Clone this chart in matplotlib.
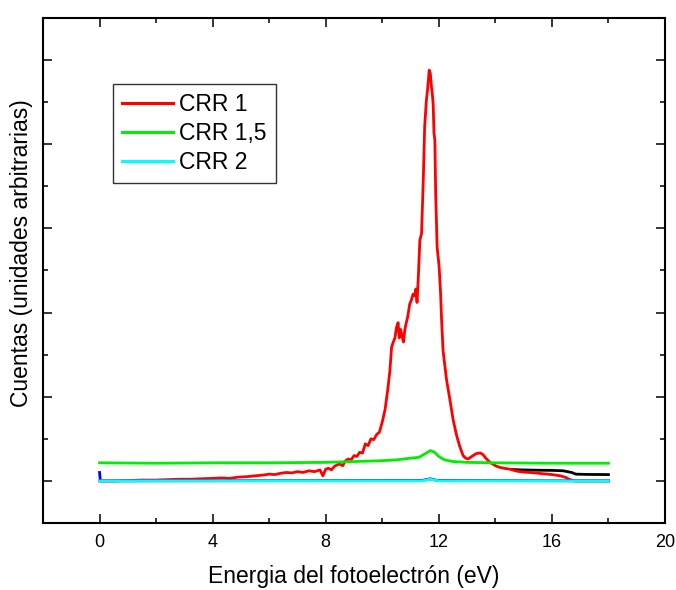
import matplotlib
matplotlib.use("Agg")
import matplotlib.pyplot as plt
from matplotlib.ticker import MultipleLocator

plt.rcParams['font.family'] = ['Liberation Sans', 'DejaVu Sans']

# Photoelectron spectra (arbitrary units) vs energy (eV)
crr1_e = [0.0, 0.5, 1.0, 1.5, 2.0, 2.4, 2.8, 3.2, 3.6, 4.0, 4.3, 4.6, 4.9, 5.2, 5.5,
          5.8, 6.0, 6.2, 6.4, 6.6, 6.8, 7.0, 7.2, 7.4, 7.6, 7.8, 7.9, 8.0, 8.1, 8.2,
          8.3, 8.4, 8.5, 8.6, 8.7, 8.8, 8.9, 9.0, 9.1, 9.2, 9.3, 9.4, 9.5, 9.6, 9.7,
          9.8, 9.9, 10.0, 10.1, 10.2, 10.27, 10.33, 10.4, 10.45, 10.5, 10.56, 10.6,
          10.65, 10.7, 10.75, 10.8, 10.85, 10.9, 10.97, 11.03, 11.09, 11.15, 11.19,
          11.23, 11.27, 11.33, 11.39, 11.45, 11.5, 11.56, 11.6, 11.66, 11.7, 11.74,
          11.77, 11.8, 11.83, 11.86, 11.89, 11.94, 12.01, 12.06, 12.1, 12.15, 12.27,
          12.39, 12.51, 12.63, 12.74, 12.86, 12.95, 13.04, 13.12, 13.21, 13.3, 13.39,
          13.48, 13.57, 13.66, 13.75, 13.85, 13.92, 14.0, 14.16, 14.3, 14.51, 14.7,
          14.87, 15.0, 15.22, 15.4, 15.69, 16.0, 16.3, 16.5, 16.6, 16.8, 17.0, 18.0]
crr1_v = [0.0, 0.0, 0.005, 0.01, 0.01, 0.015, 0.02, 0.02, 0.025, 0.03, 0.035, 0.03,
          0.045, 0.05, 0.06, 0.07, 0.08, 0.075, 0.09, 0.1, 0.095, 0.11, 0.1, 0.12,
          0.11, 0.13, 0.06, 0.14, 0.15, 0.13, 0.17, 0.19, 0.2, 0.18, 0.24, 0.26, 0.25,
          0.3, 0.29, 0.34, 0.33, 0.44, 0.42, 0.5, 0.49, 0.55, 0.58, 0.7, 0.85, 1.1,
          1.31, 1.59, 1.66, 1.7, 1.82, 1.88, 1.7, 1.8, 1.72, 1.65, 1.8, 1.88, 1.95,
          2.1, 2.15, 2.22, 2.2, 2.28, 2.12, 2.38, 2.86, 2.94, 3.57, 4.21, 4.52, 4.64,
          4.88, 4.84, 4.68, 4.6, 4.48, 4.13, 4.05, 3.41, 2.78, 2.55, 2.25, 1.9, 1.55,
          1.21, 0.97, 0.72, 0.54, 0.41, 0.3, 0.27, 0.26, 0.28, 0.3, 0.32, 0.33, 0.33,
          0.31, 0.27, 0.24, 0.21, 0.2, 0.18, 0.16, 0.15, 0.14, 0.12, 0.11, 0.105, 0.1,
          0.095, 0.085, 0.075, 0.06, 0.04, 0.02, 0.0, 0.0, 0.0]

crr15_e = [0.0, 2.0, 4.0, 6.0, 8.0, 9.0, 10.0, 10.5, 11.0, 11.3, 11.5, 11.7, 11.85,
           12.0, 12.2, 12.5, 13.0, 14.0, 16.0, 18.0]
crr15_v = [0.215, 0.21, 0.215, 0.215, 0.22, 0.23, 0.24, 0.25, 0.27, 0.28, 0.32, 0.36,
           0.34, 0.29, 0.25, 0.23, 0.22, 0.215, 0.21, 0.21]

crr2_e = [0.0, 11.4, 11.7, 12.0, 18.0]
crr2_v = [0.0, 0.0, 0.02, 0.0, 0.0]

blue_e = [0.0, 0.03, 11.4, 11.7, 11.95, 18.0]
blue_v = [0.1, 0.0, 0.005, 0.025, 0.005, 0.0]

black_e = [14.6, 15.0, 15.5, 16.0, 16.4, 16.7, 16.85, 17.2, 18.0]
black_v = [0.135, 0.13, 0.127, 0.125, 0.12, 0.1, 0.08, 0.077, 0.075]

xticks = [0, 4, 8, 12, 16, 20]

fig = plt.figure(figsize=(6.76, 5.90), dpi=100)
ax = fig.add_axes([0.0636, 0.1136, 0.9201, 0.8559])

ax.plot(black_e, black_v, color='black', lw=2.0)
ax.plot(crr1_e, crr1_v, color='#ff0000', lw=2.0, label='CRR 1')
ax.plot(crr15_e, crr15_v, color='#00ee00', lw=2.0, label='CRR 1,5')
ax.plot(blue_e, blue_v, color='#0000ff', lw=2.0)
ax.plot(crr2_e, crr2_v, color='#00ffff', lw=2.0, label='CRR 2')

ax.set_xlim(-2, 20)
ax.set_ylim(-0.5, 5.5)
ax.set_xticks(xticks)
ax.set_xticklabels([str(t) for t in xticks], fontsize=13)
ax.xaxis.set_minor_locator(MultipleLocator(2))
ax.yaxis.set_major_locator(MultipleLocator(1))
ax.yaxis.set_minor_locator(MultipleLocator(0.5))
ax.tick_params(which='both', direction='in', top=True, right=True, width=1.1)
ax.tick_params(which='major', length=6.5, pad=8)
ax.tick_params(which='minor', length=3.6)
ax.tick_params(axis='y', which='both', labelleft=False)
for s in ax.spines.values():
    s.set_linewidth(1.5)

ax.set_xlabel('Energia del fotoelectrón (eV)', fontsize=16.5, labelpad=10)
ax.set_ylabel('Cuentas (unidades arbitrarias)', fontsize=16.5)
ax.yaxis.set_label_coords(-0.016, 0.535)

leg = ax.legend(loc='upper left', bbox_to_anchor=(0.1125, 0.8693), borderaxespad=0,
                fontsize=16.5, frameon=True, fancybox=False, edgecolor='black',
                handlelength=2.2, handletextpad=0.3, labelspacing=0.25,
                borderpad=0.4)
leg.get_frame().set_linewidth(1.0)
for line in leg.get_lines():
    line.set_linewidth(2.2)

fig.savefig('out.png', dpi=100)
